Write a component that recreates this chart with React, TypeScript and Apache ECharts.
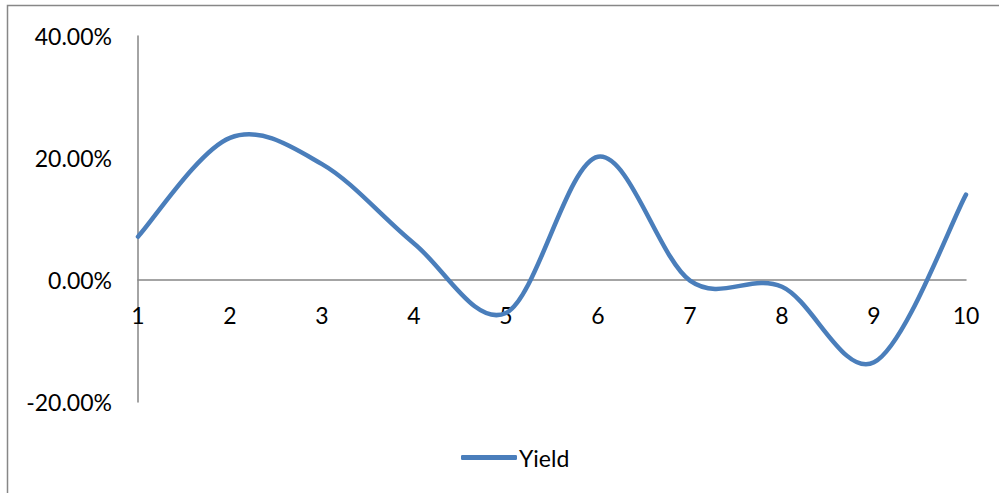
import React, { useEffect, useRef } from "react";
import * as echarts from "echarts";

const categories = ["1", "2", "3", "4", "5", "6", "7", "8", "9", "10"];
const yieldValues = [7.1, 23.3, 19.0, 6.0, -5.4, 20.2, -0.1, -1.1, -13.5, 14.0];
const seriesName = "Yield";
const yMin = -20;
const yMax = 40;
const yInterval = 20;

// Excel-like smoothed line (Catmull-Rom style bezier) through pixel points from the axes.
function smoothPath(pts: number[][]): string {
  if (!pts.length) return "";
  let d = `M${pts[0][0]},${pts[0][1]}`;
  for (let i = 0; i < pts.length - 1; i++) {
    const p0 = pts[i - 1] || pts[i];
    const p1 = pts[i];
    const p2 = pts[i + 1];
    const p3 = pts[i + 2] || pts[i + 1];
    const c1x = p1[0] + (p2[0] - p0[0]) / 6;
    const c1y = p1[1] + (p2[1] - p0[1]) / 6;
    const c2x = p2[0] - (p3[0] - p1[0]) / 6;
    const c2y = p2[1] - (p3[1] - p1[1]) / 6;
    d += ` C${c1x},${c1y} ${c2x},${c2y} ${p2[0]},${p2[1]}`;
  }
  return d;
}

export default function App() {
  const ref = useRef<HTMLDivElement>(null);
  useEffect(() => {
    if (!ref.current) return;
    const chart = echarts.init(ref.current, undefined, { renderer: "svg" });
    const font = "Lato";
    const color = "#4a7ebb";
    const gridTop = 36;
    const gridBottom = 91;
    const plotH = 493 - gridTop - gridBottom;
    const zeroOffset = -(plotH * (0 - yMin)) / (yMax - yMin);
    chart.setOption({
      animation: false,
      backgroundColor: "#ffffff",
      textStyle: { fontFamily: font },
      graphic: [
        {
          type: "rect",
          shape: { x: 7.5, y: 5.5, width: 1100, height: 600 },
          style: { fill: "none", stroke: "#878787", lineWidth: 1.5 },
          silent: true,
          z: 100,
        },
      ],
      grid: { left: 138, right: 33, top: gridTop, bottom: gridBottom, containLabel: false },
      legend: {
        data: [seriesName],
        left: 456,
        top: 441,
        icon: "roundRect",
        itemWidth: 56,
        itemHeight: 5,
        itemGap: 10,
        itemStyle: { color },
        textStyle: { fontFamily: font, fontSize: 23, color: "#000", padding: [0, 0, 0, -3] },
      },
      xAxis: {
        type: "category",
        data: categories,
        boundaryGap: false,
        offset: zeroOffset,
        axisLine: { onZero: false, lineStyle: { color: "#868686", width: 1.5 } },
        axisTick: { show: false },
        axisLabel: { margin: 23, fontFamily: font, fontSize: 23, color: "#000" },
        splitLine: { show: false },
      },
      yAxis: {
        type: "value",
        min: yMin,
        max: yMax,
        interval: yInterval,
        axisLine: { show: true, lineStyle: { color: "#868686", width: 1.5 } },
        axisTick: { show: false },
        splitLine: { show: false },
        axisLabel: {
          margin: 26,
          fontFamily: font,
          fontSize: 23,
          color: "#000",
          formatter: (v: number) => v.toFixed(2) + "%",
        },
      },
      series: [
        {
          name: seriesName,
          type: "custom",
          data: yieldValues.map((v, i) => [i, v]),
          encode: { x: 0, y: 1 },
          itemStyle: { color },
          silent: true,
          renderItem: (params: any, api: any) => {
            if (params.dataIndex !== 0) return null;
            const pts = yieldValues.map((v, i) => api.coord([i, v]));
            return {
              type: "path",
              shape: { pathData: smoothPath(pts) },
              style: {
                fill: "none",
                stroke: color,
                lineWidth: 4.5,
                lineCap: "round",
                lineJoin: "round",
              },
            };
          },
        },
      ],
    });
    return () => chart.dispose();
  }, []);
  return (
    <div
      ref={ref}
      style={{ position: "absolute", left: 0, top: 0, width: 999, height: 493 }}
    />
  );
}
